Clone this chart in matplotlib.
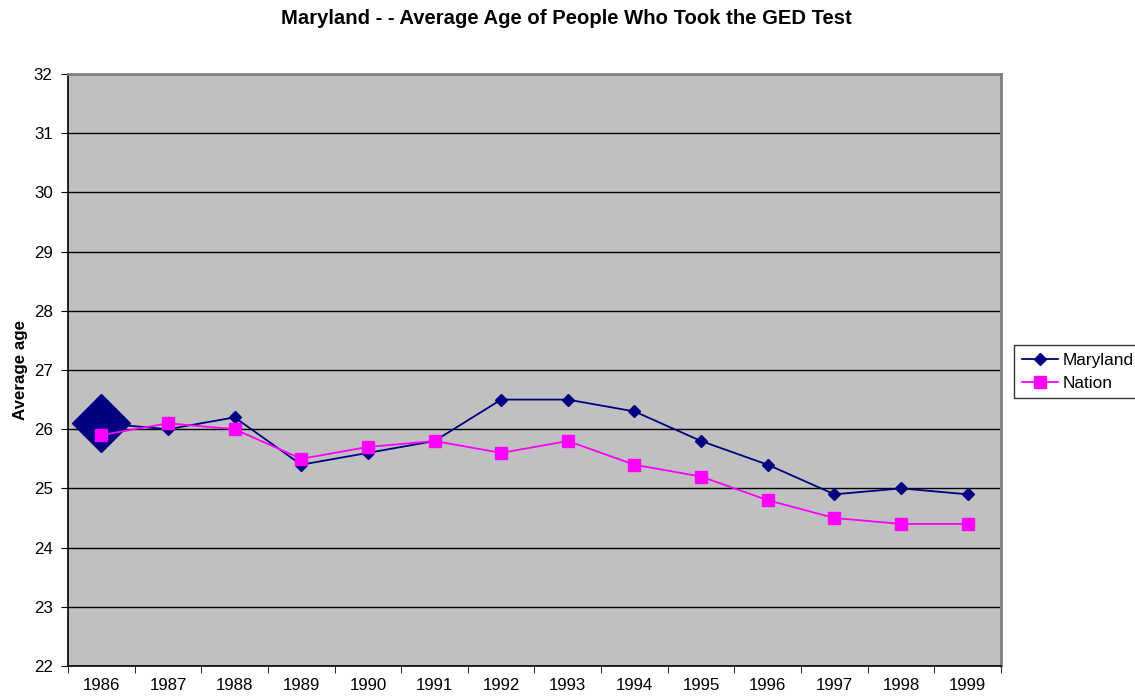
import numpy as np
import matplotlib
matplotlib.use("Agg")
import matplotlib.pyplot as plt
from matplotlib.lines import Line2D

plt.rcParams['font.family'] = ['Liberation Sans', 'DejaVu Sans']

years = ['1986', '1987', '1988', '1989', '1990', '1991', '1992',
         '1993', '1994', '1995', '1996', '1997', '1998', '1999']
maryland = [26.1, 26.0, 26.2, 25.4, 25.6, 25.8, 26.5, 26.5, 26.3, 25.8, 25.4, 24.9, 25.0, 24.9]
nation = [25.9, 26.1, 26.0, 25.5, 25.7, 25.8, 25.6, 25.8, 25.4, 25.2, 24.8, 24.5, 24.4, 24.4]

navy = '#000080'
pink = '#FF00FF'

fig = plt.figure(figsize=(11.35, 6.98), dpi=100)
ax = fig.add_axes([68/1135, 1-666/698, 933/1135, 592/698])
ax.set_facecolor('#C0C0C0')

x = np.arange(len(years))
ax.plot(x, maryland, color=navy, lw=1.3, marker='D', ms=6, mfc=navy, mec=navy, zorder=3)
# highlighted first point
ax.plot(x[:1], maryland[:1], ls='none', marker='D', ms=30, color=navy, zorder=3)
ax.plot(x, nation, color=pink, lw=1.3, marker='s', ms=8, mfc=pink, mec=pink, zorder=4)

ax.set_xlim(-0.5, len(years) - 0.5)
ax.set_ylim(22, 32)
ax.set_yticks(range(22, 33))
ax.yaxis.grid(True, color='black', lw=1)
ax.set_axisbelow(True)

ax.set_xticks(x)
ax.set_xticklabels(years)
ax.set_xticks(np.arange(-0.5, len(years)), minor=True)
ax.tick_params(axis='x', which='major', length=0, pad=9, labelsize=12.2)
ax.tick_params(axis='x', which='minor', length=5, direction='out', color='black')
ax.tick_params(axis='y', length=5, direction='out', labelsize=12.2, pad=6)

for s in ['left', 'bottom']:
    ax.spines[s].set_color('black')
    ax.spines[s].set_linewidth(1.2)
for s in ['top', 'right']:
    ax.spines[s].set_color('#808080')
    ax.spines[s].set_linewidth(2)

ax.set_ylabel('Average age', fontsize=12.2, fontweight='bold', labelpad=4)
fig.suptitle('Maryland - - Average Age of People Who Took the GED Test',
             x=566/1135, y=1-18/698, va='center', fontsize=14.6, fontweight='bold')

handles = [Line2D([], [], color=navy, marker='D', ms=6, lw=1.3),
           Line2D([], [], color=pink, marker='s', ms=8, lw=1.3)]
leg = fig.legend(handles, ['Maryland', 'Nation'], loc='upper left',
                 bbox_to_anchor=(1014/1135, 1-345/698), fontsize=12.4,
                 frameon=True, fancybox=False, edgecolor='black',
                 handlelength=2.1, handletextpad=0.3, borderpad=0.45,
                 labelspacing=0.45, borderaxespad=0)
leg.get_frame().set_linewidth(1)

fig.savefig('out.png', dpi=100)
